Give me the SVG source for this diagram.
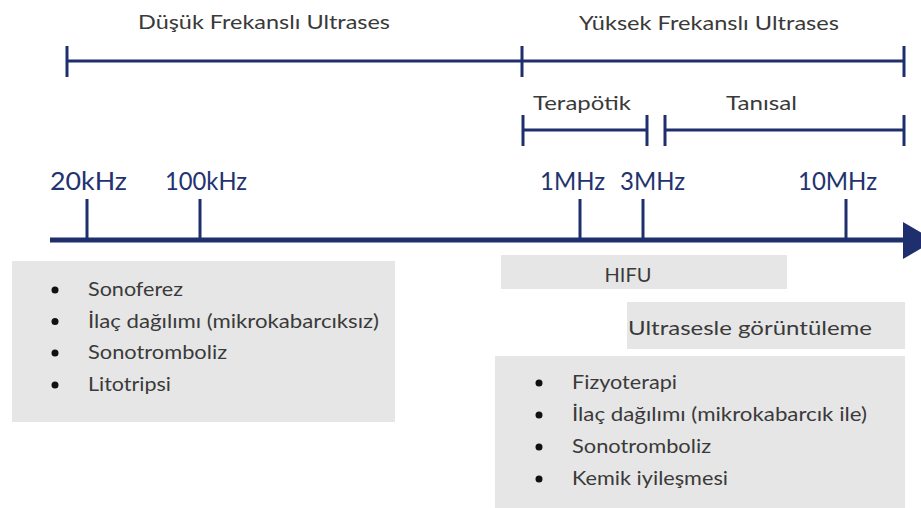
<svg xmlns="http://www.w3.org/2000/svg" width="921" height="508" viewBox="0 0 921 508">
  <defs>
    <style>
      .ln { stroke: #1f2f6e; stroke-width: 3; fill: none; }
      .tk { stroke: #1f2f6e; stroke-width: 3; }
      .ax { stroke: #1f2f6e; stroke-width: 5; }
      .hd { font-family: Lato, "Liberation Sans", sans-serif; font-size: 20px; fill: #3a3a3a; }
      .fq { font-family: Lato, "Liberation Sans", sans-serif; font-size: 25px; fill: #23336f; }
      .bt { font-family: Lato, "Liberation Sans", sans-serif; font-size: 19px; fill: #3a3a3a; }
      .box { fill: #e6e6e6; }
      .dot { fill: #111; }
    </style>
  </defs>
  <rect width="921" height="508" fill="#ffffff"/>

  <g id="headings">
    <text class="hd" x="138" y="29" textLength="252" lengthAdjust="spacingAndGlyphs">Düşük Frekanslı Ultrases</text>
    <text class="hd" x="579" y="30" textLength="260" lengthAdjust="spacingAndGlyphs">Yüksek Frekanslı Ultrases</text>
    <text class="hd" x="533" y="110" textLength="98" lengthAdjust="spacingAndGlyphs">Terapötik</text>
    <text class="hd" x="726" y="110" textLength="71" lengthAdjust="spacingAndGlyphs">Tanısal</text>
  </g>

  <g id="connectors">
    <!-- low / high frequency range bar -->
    <line class="ln" x1="67" y1="61" x2="904" y2="61"/>
    <line class="tk" x1="67" y1="46" x2="67" y2="77"/>
    <line class="tk" x1="522" y1="46" x2="522" y2="77"/>
    <line class="tk" x1="904" y1="46" x2="904" y2="77"/>
    <!-- therapeutic -->
    <line class="ln" x1="523" y1="130" x2="647" y2="130"/>
    <line class="tk" x1="523" y1="115" x2="523" y2="146"/>
    <line class="tk" x1="647" y1="115" x2="647" y2="146"/>
    <!-- diagnostic -->
    <line class="ln" x1="665" y1="130" x2="904" y2="130"/>
    <line class="tk" x1="665" y1="115" x2="665" y2="146"/>
    <line class="tk" x1="904" y1="115" x2="904" y2="146"/>
    <!-- frequency axis -->
    <line class="ax" x1="50" y1="240" x2="906" y2="240"/>
    <polygon points="903,222 903,259 935,240.5" fill="#1f2f6e"/>
    <line class="tk" x1="87" y1="199" x2="87" y2="240"/>
    <line class="tk" x1="200" y1="199" x2="200" y2="240"/>
    <line class="tk" x1="580" y1="199" x2="580" y2="240"/>
    <line class="tk" x1="643" y1="199" x2="643" y2="240"/>
    <line class="tk" x1="846" y1="199" x2="846" y2="240"/>
  </g>

  <g id="freq-labels">
    <text class="fq" x="50" y="190" textLength="77" lengthAdjust="spacingAndGlyphs">20kHz</text>
    <text class="fq" x="165" y="190" textLength="82" lengthAdjust="spacingAndGlyphs">100kHz</text>
    <text class="fq" x="540" y="190" textLength="65" lengthAdjust="spacingAndGlyphs">1MHz</text>
    <text class="fq" x="620" y="190" textLength="65" lengthAdjust="spacingAndGlyphs">3MHz</text>
    <text class="fq" x="798" y="190" textLength="79" lengthAdjust="spacingAndGlyphs">10MHz</text>
  </g>

  <g id="low-freq-apps">
    <rect class="box" x="12" y="261" width="383" height="161"/>
    <circle class="dot" cx="55" cy="290" r="3.5"/>
    <circle class="dot" cx="55" cy="321.5" r="3.5"/>
    <circle class="dot" cx="55" cy="353" r="3.5"/>
    <circle class="dot" cx="55" cy="385" r="3.5"/>
    <text class="bt" x="88" y="296" textLength="95" lengthAdjust="spacingAndGlyphs">Sonoferez</text>
    <text class="bt" x="88" y="327.5" textLength="291" lengthAdjust="spacingAndGlyphs">İlaç dağılımı (mikrokabarcıksız)</text>
    <text class="bt" x="88" y="359" textLength="139" lengthAdjust="spacingAndGlyphs">Sonotromboliz</text>
    <text class="bt" x="88" y="391" textLength="83" lengthAdjust="spacingAndGlyphs">Litotripsi</text>
  </g>

  <g id="hifu">
    <rect class="box" x="501" y="255" width="286" height="34"/>
    <text class="hd" x="628" y="282" text-anchor="middle" font-size="21" fill="#222">HIFU</text>
  </g>

  <g id="imaging">
    <rect class="box" x="627" y="302" width="278" height="47"/>
    <text class="hd" x="628" y="335" textLength="244" lengthAdjust="spacingAndGlyphs" fill="#222">Ultrasesle görüntüleme</text>
  </g>

  <g id="high-freq-apps">
    <rect class="box" x="495" y="356" width="410" height="152"/>
    <circle class="dot" cx="539" cy="383" r="3.5"/>
    <circle class="dot" cx="539" cy="415" r="3.5"/>
    <circle class="dot" cx="539" cy="447" r="3.5"/>
    <circle class="dot" cx="539" cy="479" r="3.5"/>
    <text class="bt" x="572" y="389" textLength="105" lengthAdjust="spacingAndGlyphs">Fizyoterapi</text>
    <text class="bt" x="572" y="421" textLength="295" lengthAdjust="spacingAndGlyphs">İlaç dağılımı (mikrokabarcık ile)</text>
    <text class="bt" x="572" y="453" textLength="139" lengthAdjust="spacingAndGlyphs">Sonotromboliz</text>
    <text class="bt" x="572" y="485" textLength="156" lengthAdjust="spacingAndGlyphs">Kemik iyileşmesi</text>
  </g>
</svg>
